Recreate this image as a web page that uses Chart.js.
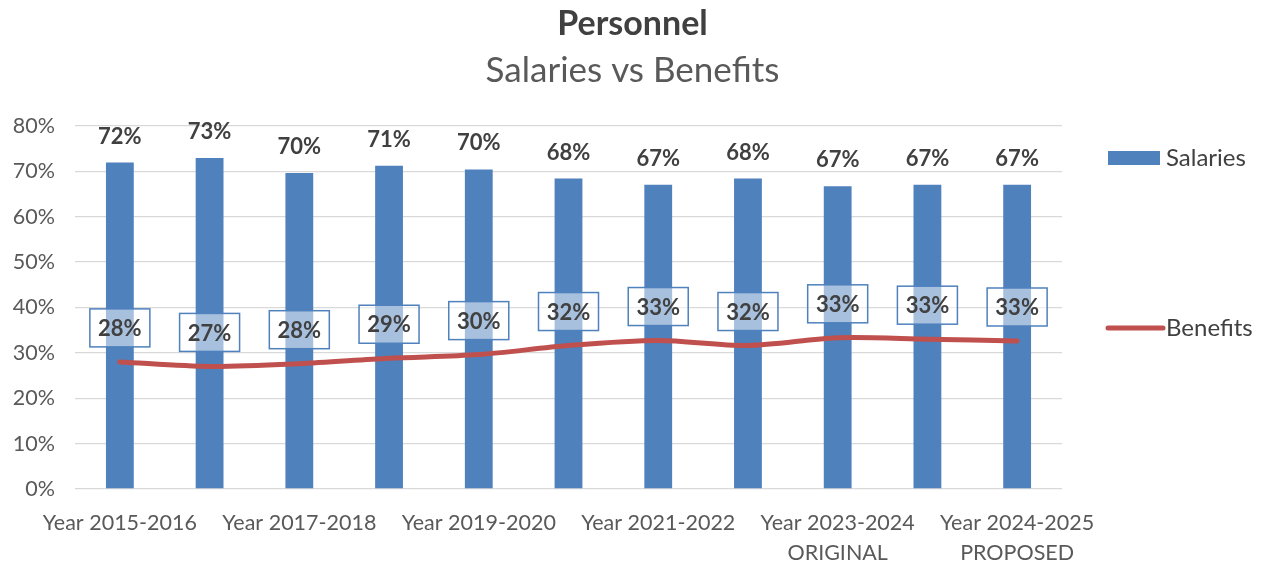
<!DOCTYPE html>
<html>
<head>
<meta charset="utf-8">
<script src="https://cdn.jsdelivr.net/npm/chart.js@4"></script>
<style>
  html, body { margin: 0; padding: 0; background: #fff; }
  #wrap { width: 1265px; height: 565px; }
</style>
</head>
<body>
<div id="wrap"><canvas id="chart"></canvas></div>
<script>
//categories (every other one gets a visible label, like the original)
const categories = [
  "Year 2015-2016", "Year 2016-2017", "Year 2017-2018", "Year 2018-2019",
  "Year 2019-2020", "Year 2020-2021", "Year 2021-2022", "Year 2022-2023",
  ["Year 2023-2024", "ORIGINAL"], ["Year 2023-2024", "REVISED"], ["Year 2024-2025", "PROPOSED"]
];
//share of personnel cost, percent
const salaries = [71.9, 72.9, 69.6, 71.2, 70.4, 68.4, 67.0, 68.4, 66.7, 67.0, 67.0];
const benefits = [28.0, 27.0, 27.6, 28.8, 29.6, 31.6, 32.7, 31.6, 33.3, 33.0, 32.6];
const yTicks = [0, 10, 20, 30, 40, 50, 60, 70, 80];

const FONT = "Lato";
const blue = "#4F81BD";
const red = "#C0504D";

//draws the value labels and the legend on the right
const labelPlugin = {
  id: "labels",
  afterDatasetsDraw(chart) {
    const ctx = chart.ctx;
    ctx.save();
    ctx.font = "bold 22px " + FONT;
    ctx.fillStyle = "#404040";
    ctx.textAlign = "center";
    ctx.textBaseline = "middle";
    //bar labels
    chart.getDatasetMeta(1).data.forEach((bar, i) => {
      ctx.fillText(Math.round(salaries[i]) + "%", bar.x, bar.y - 26);
    });
    //line labels inside boxes
    chart.getDatasetMeta(0).data.forEach((pt, i) => {
      const cy = pt.y - 34;
      ctx.fillStyle = "rgba(255,255,255,0.5)";
      ctx.fillRect(pt.x - 30, cy - 19, 60, 38);
      ctx.strokeStyle = blue;
      ctx.lineWidth = 1.5;
      ctx.strokeRect(pt.x - 30, cy - 19, 60, 38);
      ctx.fillStyle = "#404040";
      ctx.fillText(Math.round(benefits[i]) + "%", pt.x, cy + 1);
    });
    ctx.restore();
  },
  afterDraw(chart) {
    const ctx = chart.ctx;
    const x0 = chart.chartArea.right + 46;
    ctx.save();
    ctx.font = "24px " + FONT;
    ctx.textBaseline = "middle";
    //Salaries
    ctx.fillStyle = blue;
    ctx.fillRect(x0, 151, 52, 14);
    ctx.fillStyle = "#404040";
    ctx.fillText(chart.data.datasets[1].label, x0 + 58, 158);
    //Benefits
    ctx.strokeStyle = red;
    ctx.lineWidth = 5;
    ctx.lineCap = "round";
    ctx.beginPath();
    ctx.moveTo(x0, 328);
    ctx.lineTo(x0 + 55, 328);
    ctx.stroke();
    ctx.fillText(chart.data.datasets[0].label, x0 + 58, 328);
    ctx.restore();
  }
};

let myChart = new Chart(document.getElementById("chart"), {
  plugins: [labelPlugin],
  data: {
    labels: categories,
    datasets: [
      {
        type: "line",
        label: "Benefits",
        data: benefits,
        borderColor: red,
        borderWidth: 5,
        tension: 0.3,
        pointRadius: 0,
        borderCapStyle: "round",
        order: 0
      },
      {
        type: "bar",
        label: "Salaries",
        data: salaries,
        backgroundColor: blue,
        barPercentage: 0.31,
        categoryPercentage: 1,
        order: 1
      }
    ]
  },
  options: {
    responsive: true,
    maintainAspectRatio: false,
    animation: false,
    layout: { padding: 0 },
    plugins: {
      legend: { display: false },
      tooltip: { enabled: false },
      title: {
        display: true,
        text: "Personnel",
        color: "#404040",
        font: { family: FONT, size: 34, weight: "bold" },
        padding: { top: 4, bottom: 5 }
      },
      subtitle: {
        display: true,
        text: "Salaries vs Benefits",
        color: "#595959",
        font: { family: FONT, size: 35 },
        padding: { top: 0, bottom: 34 }
      }
    },
    scales: {
      x: {
        grid: { display: false },
        border: { display: false },
        afterFit: (scale) => { scale.height = 76; },
        ticks: {
          autoSkip: false,
          maxRotation: 0,
          minRotation: 0,
          padding: 11,
          color: "#595959",
          font: { family: FONT, size: 21.5, lineHeight: 1.4 },
          callback: function (v, i) { return i % 2 === 0 ? this.getLabelForValue(v) : ""; }
        }
      },
      y: {
        min: 0,
        max: 80,
        afterBuildTicks: (scale) => { scale.ticks = yTicks.map(v => ({ value: v })); },
        afterFit: (scale) => { scale.width = 75; },
        grid: { color: "#D9D9D9", lineWidth: 1.3, drawTicks: false },
        border: { display: false },
        ticks: {
          padding: 20,
          color: "#595959",
          font: { family: FONT, size: 21.5 },
          callback: (v) => v + "%"
        }
      },
      //empty room on the right for the legend
      legendSpace: {
        type: "linear",
        position: "right",
        grid: { display: false },
        border: { display: false },
        ticks: { display: false },
        afterFit: (scale) => { scale.width = 203; }
      }
    }
  }
});
</script>
</body>
</html>
